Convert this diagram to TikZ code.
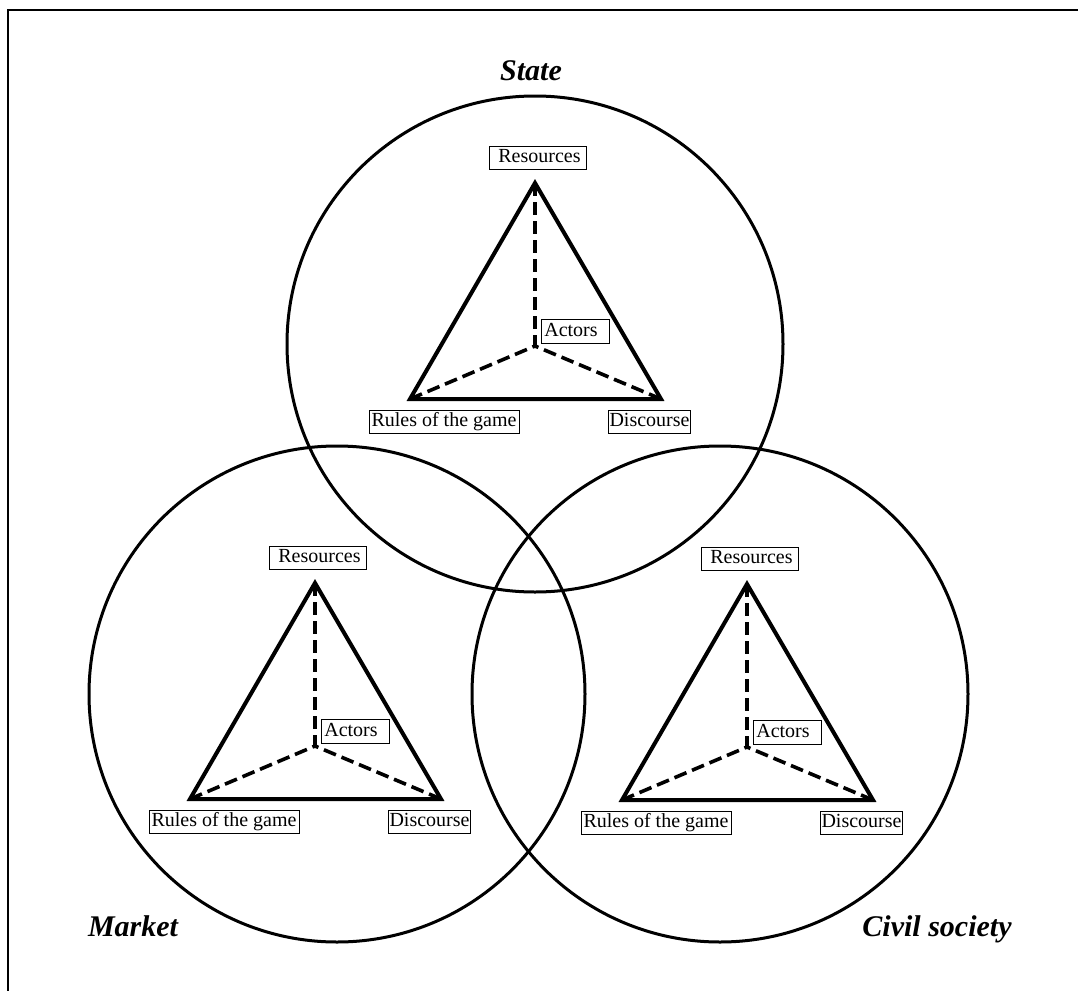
\documentclass[tikz,border=0pt]{standalone}
\usepackage{fontspec}
\setmainfont{Liberation Serif}
\tikzset{
  sphere/.style={draw, circle, line width=1.5pt, minimum size=248pt, inner sep=0pt},
  tri/.style={line width=2pt, line join=miter},
  spoke/.style={line width=1.8pt, dash pattern=on 6.5pt off 3pt},
  lbl/.style={draw, line width=0.5pt, font=\fontsize{10}{12}\selectfont, inner xsep=0.5pt, inner ysep=1.2pt, text height=7pt, text depth=2.2pt, align=center},
  sector/.style={font=\fontsize{15}{18}\selectfont\bfseries\itshape, anchor=base, inner sep=0pt},
  frameline/.style={line width=1pt}
}
\newcommand{\DrawTriad}[2]{%
  \begin{scope}[shift={#2}]
    \coordinate (#1-R) at (0,0);
    \coordinate (#1-L) at (-125,216);
    \coordinate (#1-D) at (126,216);
    \coordinate (#1-A) at (0,163);
    \draw[tri] (#1-R) -- (#1-D) -- (#1-L) -- cycle;
    \draw[spoke] (#1-R) -- (#1-A);
    \draw[spoke] (#1-L) -- (#1-A);
    \draw[spoke] (#1-D) -- (#1-A);
    \node[lbl, minimum width=48.5pt] (#1-res) at (2.5,-25) {\hspace{2pt}Resources};
    \node[lbl, minimum width=34pt] (#1-act) at (40,148.5) {Actors\hspace{4pt}};
    \node[lbl, minimum width=75pt] (#1-rul) at (-91,239) {Rules of the game};
    \node[lbl, minimum width=40.5pt] (#1-dis) at (114.5,239) {Discourse};
  \end{scope}%
}
\begin{document}
\begin{tikzpicture}[x=0.5pt,y=-0.5pt]
  \useasboundingbox (0,0) rectangle (1078,991);
  \coordinate (fTL) at (8,10);
  \coordinate (fTR) at (1078,10);
  \coordinate (fBL) at (8,991);
  \draw[frameline] (fTR) -- (fTL) -- (fBL);
  \node[sphere] (state) at (535,344) {};
  \node[sphere] (market) at (337,694) {};
  \node[sphere] (civil) at (720,694) {};
  \DrawTriad{s}{(535,183)}
  \DrawTriad{m}{(315,583)}
  \DrawTriad{c}{(747,584)}
  \node[sector] (tState) at (531,80) {State};
  \node[sector] (tMarket) at (133,936) {Market};
  \node[sector] (tCivil) at (937,936) {Civil society};
\end{tikzpicture}
\end{document}
